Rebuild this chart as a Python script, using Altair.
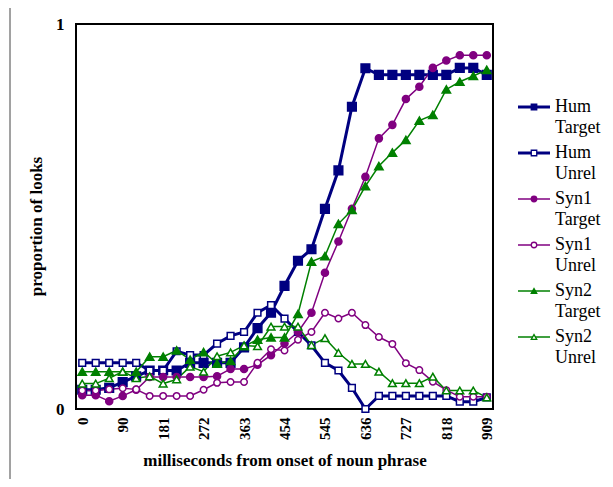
import altair as alt
import pandas as pd

t_ms = [0, 30.3, 60.6, 90.9, 121.2, 151.5, 181.8, 212.1, 242.4, 272.7, 303.0,
        333.3, 363.6, 393.9, 424.2, 454.5, 484.8, 515.1, 545.4, 575.7, 606.0,
        636.3, 666.6, 696.9, 727.2, 757.5, 787.8, 818.1, 848.4, 878.7, 909.0]

hum_target = [0.05, 0.05, 0.055, 0.07, 0.085, 0.10, 0.10, 0.10, 0.12, 0.12, 0.12,
              0.12, 0.16, 0.21, 0.25, 0.32, 0.385, 0.415, 0.52, 0.62, 0.785,
              0.885, 0.868, 0.868, 0.868, 0.868, 0.868, 0.868, 0.886, 0.886, 0.868]
hum_unrel = [0.12, 0.12, 0.12, 0.12, 0.12, 0.10, 0.10, 0.15, 0.14, 0.14, 0.17,
             0.19, 0.20, 0.25, 0.27, 0.235, 0.20, 0.165, 0.12, 0.10, 0.055,
             0.0, 0.034, 0.034, 0.034, 0.034, 0.034, 0.034, 0.019, 0.019, 0.03]
syn1_target = [0.036, 0.036, 0.02, 0.034, 0.05, 0.083, 0.083, 0.083, 0.083, 0.083, 0.085,
               0.104, 0.104, 0.115, 0.14, 0.17, 0.20, 0.25, 0.354, 0.435, 0.52,
               0.603, 0.703, 0.738, 0.805, 0.837, 0.886, 0.905, 0.919, 0.919, 0.919]
syn1_unrel = [0.048, 0.048, 0.051, 0.054, 0.051, 0.034, 0.034, 0.034, 0.034, 0.05, 0.068,
              0.07, 0.07, 0.12, 0.155, 0.152, 0.18, 0.20, 0.25, 0.235, 0.25,
              0.218, 0.187, 0.169, 0.119, 0.101, 0.071, 0.049, 0.032, 0.032, 0.032]
syn2_target = [0.097, 0.097, 0.097, 0.097, 0.097, 0.136, 0.136, 0.152, 0.128, 0.148, 0.118,
               0.125, 0.163, 0.18, 0.186, 0.186, 0.247, 0.383, 0.397, 0.481, 0.517,
               0.579, 0.631, 0.666, 0.699, 0.749, 0.764, 0.83, 0.85, 0.865, 0.881]
syn2_unrel = [0.066, 0.066, 0.08, 0.097, 0.08, 0.085, 0.066, 0.077, 0.11, 0.097, 0.137,
              0.147, 0.165, 0.163, 0.214, 0.214, 0.214, 0.166, 0.184, 0.146, 0.117,
              0.117, 0.097, 0.067, 0.067, 0.067, 0.084, 0.048, 0.048, 0.048, 0.03]

series = ["Hum Target", "Hum Unrel", "Syn1 Target", "Syn1 Unrel", "Syn2 Target", "Syn2 Unrel"]
values = [hum_target, hum_unrel, syn1_target, syn1_unrel, syn2_target, syn2_unrel]

tick_values = [0, 90.9, 181.8, 272.7, 363.6, 454.5, 545.4, 636.3, 727.2, 818.1, 909]

colors = ["#000080", "#000080", "#800080", "#800080", "#008000", "#008000"]
fills = ["#000080", "#ffffff", "#800080", "#ffffff", "#008000", "#ffffff"]
shapes = ["square", "square", "circle", "circle", "triangle-up", "triangle-up"]
sizes = [75, 45, 50, 42, 70, 60]
widths = [3, 3, 1.5, 1.5, 1.5, 1.5]

rows = []
for name, vals in zip(series, values):
    for t, v in zip(t_ms, vals):
        rows.append({"t": t, "v": v, "series": name})
df = pd.DataFrame(rows)

leg_df = pd.DataFrame({
    "series": series,
    "line1": [s.split(" ")[0] for s in series],
    "line2": [s.split(" ")[1] for s in series],
})

color_scale = alt.Scale(domain=series, range=colors)
fill_scale = alt.Scale(domain=series, range=fills)
shape_scale = alt.Scale(domain=series, range=shapes)
width_scale = alt.Scale(type="ordinal", domain=series, range=widths)
size_scale = alt.Scale(type="ordinal", domain=series, range=sizes)

x_enc = alt.X("t:Q", scale=alt.Scale(domain=[-14, 923], nice=False, zero=False),
              axis=alt.Axis(values=tick_values, labelExpr="floor(datum.value)",
                            labelAngle=270, labelAlign="right", labelBaseline="middle",
                            labelFontSize=15, labelPadding=8,
                            title="milliseconds from onset of noun phrase",
                            titleFontSize=17, titlePadding=13))
y_enc = alt.Y("v:Q", scale=alt.Scale(domain=[0, 1], nice=False),
              axis=alt.Axis(values=[0, 1], format="d", labelFontSize=17, labelPadding=12,
                            title="proportion of looks", titleFontSize=17, titlePadding=10,
                            titleY=202))

lines = alt.Chart(df).mark_line().encode(
    x=x_enc, y=y_enc,
    color=alt.Color("series:N", scale=color_scale, legend=None),
    strokeWidth=alt.StrokeWidth("series:N", scale=width_scale, legend=None),
    detail="series:N",
)

points = alt.Chart(df).mark_point(filled=True, opacity=1, strokeWidth=1.5).encode(
    x=x_enc, y=y_enc,
    shape=alt.Shape("series:N", scale=shape_scale, legend=None),
    fill=alt.Fill("series:N", scale=fill_scale, legend=None),
    stroke=alt.Stroke("series:N", scale=color_scale, legend=None),
    size=alt.Size("series:N", scale=size_scale, legend=None),
)

main = alt.layer(lines, points)

ly = alt.Y("series:N", scale=alt.Scale(type="point", domain=series, range=[83, 313], padding=0), axis=None)

leg_rule = alt.Chart(leg_df).mark_rule().encode(
    x=alt.value(442), x2=alt.value(474), y=ly,
    color=alt.Color("series:N", scale=color_scale, legend=None),
    strokeWidth=alt.StrokeWidth("series:N", scale=width_scale, legend=None),
)
leg_pts = alt.Chart(leg_df).mark_point(filled=True, opacity=1, strokeWidth=1.3, size=30).encode(
    x=alt.value(458), y=ly,
    shape=alt.Shape("series:N", scale=shape_scale, legend=None),
    fill=alt.Fill("series:N", scale=fill_scale, legend=None),
    stroke=alt.Stroke("series:N", scale=color_scale, legend=None),
)
leg_t1 = alt.Chart(leg_df).mark_text(align="left", baseline="middle", font="Liberation Serif",
                                     fontSize=18, color="black").encode(
    x=alt.value(479), y=ly, text="line1:N")
leg_t2 = alt.Chart(leg_df).mark_text(align="left", baseline="middle", font="Liberation Serif",
                                     fontSize=18, color="black", dy=21).encode(
    x=alt.value(479), y=ly, text="line2:N")

# thin outer figure border on the left edge
border = alt.Chart(leg_df.head(1)).mark_rule(color="#444444", strokeWidth=1).encode(
    x=alt.value(-66), y=alt.value(-16), y2=alt.value(455))

legend = alt.layer(leg_rule, leg_pts, leg_t1, leg_t2, border)

chart = alt.layer(main, legend).resolve_scale(y="independent").properties(
    width=417, height=385,
    autosize=alt.AutoSizeParams(type="none"),
    padding={"left": 68, "top": 16, "right": 110, "bottom": 70},
).configure_view(
    stroke="black", strokeWidth=2
).configure_axis(
    grid=False, ticks=False, domain=False,
    labelFont="Liberation Serif", labelFontWeight="bold", labelColor="black",
    titleFont="Liberation Serif", titleFontWeight="bold", titleColor="black",
)

chart.save("out.html", embed_options={"renderer": "svg", "actions": False})
